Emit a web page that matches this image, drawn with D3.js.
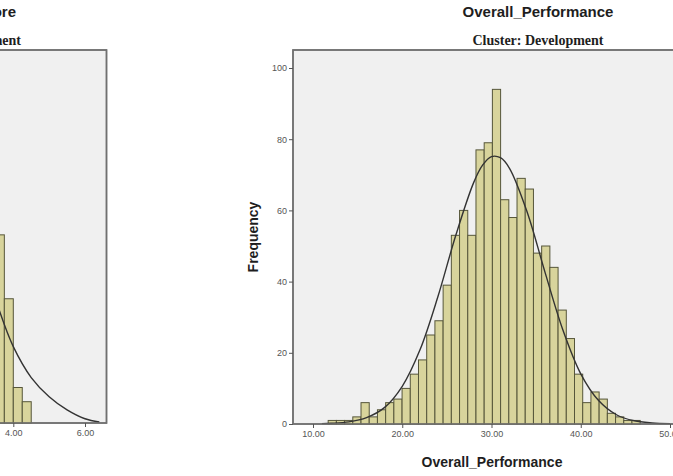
<!DOCTYPE html>
<html>
<head>
<meta charset="utf-8">
<script src="https://cdn.jsdelivr.net/npm/d3@7"></script>
<style>
  body { margin: 0; background: #fff; }
  svg { display: block; }
  .title { font-family: "Liberation Sans", Arial, sans-serif; font-weight: bold; font-size: 15px; fill: #1e1e1e; }
  .subtitle { font-family: "Liberation Serif", "Times New Roman", serif; font-weight: bold; font-size: 14px; fill: #1e1e1e; }
  .axis-title { font-family: "Liberation Sans", Arial, sans-serif; font-weight: bold; font-size: 14px; fill: #1e1e1e; }
  .axis text { font-family: "Liberation Sans", Arial, sans-serif; font-size: 9px; fill: #555; }
  .axis line { stroke: #555; }
  .axis path { display: none; }
  .frame { fill: #f0f0f0; stroke: #707070; stroke-width: 1.5; }
  .bar { fill: #d8d49c; stroke: #56563a; stroke-width: 1; }
  .curve { fill: none; stroke: #333; stroke-width: 1.4; }
</style>
</head>
<body>
<div id="chart"></div>
<script>
// right panel: Overall_Performance, Cluster: Development
var perfBinStart = 11.7;
var perfBinWidth = 0.92;
var perfCounts = [1, 1, 1, 2, 6, 2, 4, 6, 7, 10, 14, 18, 25, 29, 39, 53, 60, 53, 77, 79,
                  94, 63, 58, 69, 66, 48, 50, 44, 32, 24, 14, 6, 9, 7, 3, 2, 1, 1];
// normal curve
var perfCurveX = [11, 12, 14, 16, 18, 20, 22, 24, 26, 28, 29, 30, 31, 32, 34, 36, 38, 40, 42, 44, 46, 48, 50];
var perfCurveY = [0.1, 0.2, 0.6, 1.8, 4.6, 10.6, 20.9, 35.8, 53, 67.8, 72.7, 75.1, 74.8, 71.9, 59.5, 42.6, 26.4, 14.1, 6.6, 2.6, 0.9, 0.3, 0.1];
var perfXTicks = [10, 20, 30, 40, 50];
var perfYTicks = [0, 20, 40, 60, 80, 100];

// left panel, mostly cut off by the picture edge
var leftBinStart = 3.5;
var leftBinWidth = 0.25;
var leftCounts = [53, 35, 10, 6];
var leftCurveX = [3.6, 4.0, 4.5, 5.0, 5.5, 6.0, 6.4];
var leftCurveY = [32, 21.5, 12.8, 7.4, 3.7, 1.2, 0.3];
var leftXTicks = [4, 6];

var width = 673;
var height = 476;

var svg = d3.select("div#chart")
  .append("svg")
  .attr("width", width)
  .attr("height", height);

function drawPanel(opt) {
  var g = svg.append("g");

  g.append("rect")
    .classed("frame", true)
    .attr("x", opt.frame[0])
    .attr("y", opt.frame[1])
    .attr("width", opt.frame[2] - opt.frame[0])
    .attr("height", opt.frame[3] - opt.frame[1]);

  var x = d3.scaleLinear().domain(opt.xDomain).range(opt.xRange);
  var y = d3.scaleLinear().domain([0, 100]).range([opt.frame[3], opt.yTop]);

  var bins = opt.counts.map(function (c, i) {
    return { x0: opt.binStart + i * opt.binWidth, x1: opt.binStart + (i + 1) * opt.binWidth, n: c };
  });

  g.selectAll("rect.bar")
    .data(bins)
    .enter()
    .append("rect")
    .classed("bar", true)
    .attr("x", function (d) { return x(d.x0); })
    .attr("y", function (d) { return y(d.n); })
    .attr("width", function (d) { return x(d.x1) - x(d.x0); })
    .attr("height", function (d) { return y(0) - y(d.n); });

  var line = d3.line()
    .curve(d3.curveCatmullRom)
    .x(function (d) { return x(d[0]); })
    .y(function (d) { return y(d[1]); });

  g.append("path")
    .classed("curve", true)
    .datum(d3.zip(opt.curveX, opt.curveY))
    .attr("d", line);

  // frame border again on top of the bars
  g.append("rect")
    .attr("x", opt.frame[0])
    .attr("y", opt.frame[1])
    .attr("width", opt.frame[2] - opt.frame[0])
    .attr("height", opt.frame[3] - opt.frame[1])
    .style("fill", "none")
    .style("stroke", "#707070")
    .style("stroke-width", 1.5);

  g.append("g")
    .attr("class", "axis")
    .attr("transform", "translate(0," + opt.frame[3] + ")")
    .call(d3.axisBottom(x).tickValues(opt.xTicks).tickSize(4).tickPadding(3).tickFormat(d3.format(".2f")));

  if (opt.yTicks) {
    g.append("g")
      .attr("class", "axis")
      .attr("transform", "translate(" + opt.frame[0] + ",0)")
      .call(d3.axisLeft(y).tickValues(opt.yTicks).tickSize(4).tickPadding(2).tickFormat(d3.format("d")));
  }

  g.append("text")
    .classed("title", true)
    .attr("x", opt.titleX)
    .attr("y", 17)
    .attr("text-anchor", opt.anchor)
    .text(opt.title);

  g.append("text")
    .classed("subtitle", true)
    .attr("x", opt.subX)
    .attr("y", 45)
    .attr("text-anchor", opt.anchor)
    .text(opt.subtitle);

  if (opt.xTitle) {
    g.append("text")
      .classed("axis-title", true)
      .attr("x", opt.xTitleX)
      .attr("y", 467)
      .attr("text-anchor", "middle")
      .text(opt.xTitle);
  }
  if (opt.yTitle) {
    g.append("text")
      .classed("axis-title", true)
      .attr("transform", "translate(258,237) rotate(-90)")
      .attr("text-anchor", "middle")
      .text(opt.yTitle);
  }
}

drawPanel({
  frame: [-400, 50, 106.5, 423],
  yTop: 68,
  xDomain: [4, 6], xRange: [13.3, 85],
  binStart: leftBinStart, binWidth: leftBinWidth, counts: leftCounts,
  curveX: leftCurveX, curveY: leftCurveY,
  xTicks: leftXTicks,
  title: "Overall_Score", titleX: 16, subtitle: "Cluster: Management", subX: 21, anchor: "end"
});

drawPanel({
  frame: [293, 50, 790, 424],
  yTop: 68,
  xDomain: [10, 50], xRange: [313, 670],
  binStart: perfBinStart, binWidth: perfBinWidth, counts: perfCounts,
  curveX: perfCurveX, curveY: perfCurveY,
  xTicks: perfXTicks, yTicks: perfYTicks,
  title: "Overall_Performance", titleX: 538, subtitle: "Cluster: Development", subX: 538, anchor: "middle",
  xTitle: "Overall_Performance", xTitleX: 492, yTitle: "Frequency"
});
</script>
</body>
</html>
